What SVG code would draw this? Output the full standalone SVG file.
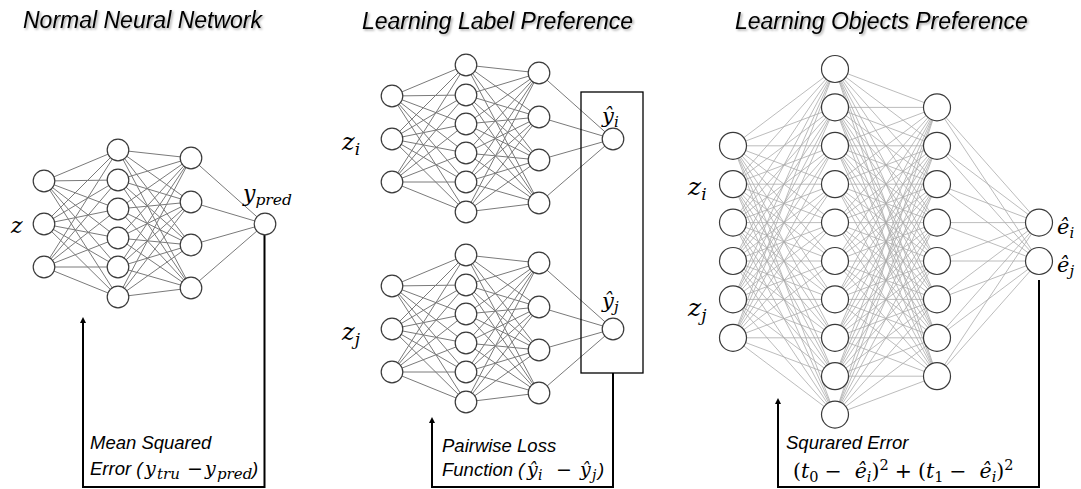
<svg xmlns="http://www.w3.org/2000/svg" width="1081" height="489" viewBox="0 0 1081 489">
<style>
.title{font-family:"Liberation Sans",Arial,sans-serif;font-style:italic;font-size:23px;fill:#000}
.lab{font-family:"Liberation Sans",Arial,sans-serif;font-style:italic;font-size:18.5px;fill:#000}
.m{font-family:"DejaVu Serif","Liberation Serif",serif;font-style:italic;fill:#000}
.up{font-style:normal}
.node{fill:#fff;stroke:#3a3a3a;stroke-width:1.2}
.e1{fill:none;stroke:#7a7a7a;stroke-width:1}
.e3{fill:none;stroke:#ababab;stroke-width:0.8;vector-effect:non-scaling-stroke}
.fb{fill:none;stroke:#000;stroke-width:2}
.box{fill:none;stroke:#000;stroke-width:1.3}
</style>
<defs>
<filter id="sh" x="-5%" y="-30%" width="110%" height="160%">
<feDropShadow dx="1.5" dy="1.5" stdDeviation="1" flood-color="#000" flood-opacity="0.35"/>
</filter>
<marker id="ah" viewBox="0 0 10 10" refX="0" refY="5" markerWidth="3" markerHeight="3" orient="auto"><path d="M0,0L10,5L0,10z" fill="#000"/></marker>
<path id="smallEdges" class="e1" d="M0 -43L74 -74M0 -43L74 -44M0 -43L74 -15M0 -43L74 14M0 -43L74 43M0 -43L74 73M0 0L74 -74M0 0L74 -44M0 0L74 -15M0 0L74 14M0 0L74 43M0 0L74 73M0 43L74 -74M0 43L74 -44M0 43L74 -15M0 43L74 14M0 43L74 43M0 43L74 73M74 -74L147 -66M74 -74L147 -22M74 -74L147 21M74 -74L147 64M74 -44L147 -66M74 -44L147 -22M74 -44L147 21M74 -44L147 64M74 -15L147 -66M74 -15L147 -22M74 -15L147 21M74 -15L147 64M74 14L147 -66M74 14L147 -22M74 14L147 21M74 14L147 64M74 43L147 -66M74 43L147 -22M74 43L147 21M74 43L147 64M74 73L147 -66M74 73L147 -22M74 73L147 21M74 73L147 64M147 -66L221 0M147 -22L221 0M147 21L221 0M147 64L221 0"/>
</defs>

<g id="titles" filter="url(#sh)">
<text class="title" x="23" y="28">Normal Neural Network</text>
<text class="title" x="362" y="29">Learning Label Preference</text>
<text class="title" x="735" y="29">Learning Objects Preference</text>
</g>

<g id="connectors">
<use href="#smallEdges" transform="translate(44,224)"/>
<use href="#smallEdges" transform="translate(392,139)"/>
<use href="#smallEdges" transform="translate(392,329)"/>
<g transform="translate(733,69) scale(102,38.4)">
<path class="e3" d="M0 2L1 0M0 2L1 1M0 2L1 2M0 2L1 3M0 2L1 4M0 2L1 5M0 2L1 6M0 2L1 7M0 2L1 8M0 2L1 9M0 3L1 0M0 3L1 1M0 3L1 2M0 3L1 3M0 3L1 4M0 3L1 5M0 3L1 6M0 3L1 7M0 3L1 8M0 3L1 9M0 4L1 0M0 4L1 1M0 4L1 2M0 4L1 3M0 4L1 4M0 4L1 5M0 4L1 6M0 4L1 7M0 4L1 8M0 4L1 9M0 5L1 0M0 5L1 1M0 5L1 2M0 5L1 3M0 5L1 4M0 5L1 5M0 5L1 6M0 5L1 7M0 5L1 8M0 5L1 9M0 6L1 0M0 6L1 1M0 6L1 2M0 6L1 3M0 6L1 4M0 6L1 5M0 6L1 6M0 6L1 7M0 6L1 8M0 6L1 9M0 7L1 0M0 7L1 1M0 7L1 2M0 7L1 3M0 7L1 4M0 7L1 5M0 7L1 6M0 7L1 7M0 7L1 8M0 7L1 9"/>
<path class="e3" d="M1 0L2 1M1 0L2 2M1 0L2 3M1 0L2 4M1 0L2 5M1 0L2 6M1 0L2 7M1 0L2 8M1 1L2 1M1 1L2 2M1 1L2 3M1 1L2 4M1 1L2 5M1 1L2 6M1 1L2 7M1 1L2 8M1 2L2 1M1 2L2 2M1 2L2 3M1 2L2 4M1 2L2 5M1 2L2 6M1 2L2 7M1 2L2 8M1 3L2 1M1 3L2 2M1 3L2 3M1 3L2 4M1 3L2 5M1 3L2 6M1 3L2 7M1 3L2 8M1 4L2 1M1 4L2 2M1 4L2 3M1 4L2 4M1 4L2 5M1 4L2 6M1 4L2 7M1 4L2 8M1 5L2 1M1 5L2 2M1 5L2 3M1 5L2 4M1 5L2 5M1 5L2 6M1 5L2 7M1 5L2 8M1 6L2 1M1 6L2 2M1 6L2 3M1 6L2 4M1 6L2 5M1 6L2 6M1 6L2 7M1 6L2 8M1 7L2 1M1 7L2 2M1 7L2 3M1 7L2 4M1 7L2 5M1 7L2 6M1 7L2 7M1 7L2 8M1 8L2 1M1 8L2 2M1 8L2 3M1 8L2 4M1 8L2 5M1 8L2 6M1 8L2 7M1 8L2 8M1 9L2 1M1 9L2 2M1 9L2 3M1 9L2 4M1 9L2 5M1 9L2 6M1 9L2 7M1 9L2 8"/>
<path class="e3" d="M2 1L3 4M2 1L3 5M2 2L3 4M2 2L3 5M2 3L3 4M2 3L3 5M2 4L3 4M2 4L3 5M2 5L3 4M2 5L3 5M2 6L3 4M2 6L3 5M2 7L3 4M2 7L3 5M2 8L3 4M2 8L3 5"/>
</g>
<path class="fb" marker-end="url(#ah)" d="M264.5 235V487H83V323"/>
<path class="fb" marker-end="url(#ah)" d="M613 373V487H432V423"/>
<path class="fb" marker-end="url(#ah)" d="M1039 280V487H778V404"/>
</g>

<g id="loss-box"><rect class="box" x="581" y="92" width="62" height="281"/></g>

<g id="net1">
<g id="n1-in0"><circle class="node" cx="44" cy="181" r="10.8"/></g>
<g id="n1-in1"><circle class="node" cx="44" cy="224" r="10.8"/></g>
<g id="n1-in2"><circle class="node" cx="44" cy="267" r="10.8"/></g>
<g id="n1-h1a"><circle class="node" cx="118" cy="150" r="10.8"/></g>
<g id="n1-h1b"><circle class="node" cx="118" cy="180" r="10.8"/></g>
<g id="n1-h1c"><circle class="node" cx="118" cy="209" r="10.8"/></g>
<g id="n1-h1d"><circle class="node" cx="118" cy="238" r="10.8"/></g>
<g id="n1-h1e"><circle class="node" cx="118" cy="267" r="10.8"/></g>
<g id="n1-h1f"><circle class="node" cx="118" cy="297" r="10.8"/></g>
<g id="n1-h2a"><circle class="node" cx="191" cy="158" r="10.8"/></g>
<g id="n1-h2b"><circle class="node" cx="191" cy="202" r="10.8"/></g>
<g id="n1-h2c"><circle class="node" cx="191" cy="245" r="10.8"/></g>
<g id="n1-h2d"><circle class="node" cx="191" cy="288" r="10.8"/></g>
<g id="n1-out"><circle class="node" cx="265" cy="224" r="10.8"/></g>
</g>

<g id="net2a">
<g id="n2a-in0"><circle class="node" cx="392" cy="96" r="10.8"/></g>
<g id="n2a-in1"><circle class="node" cx="392" cy="139" r="10.8"/></g>
<g id="n2a-in2"><circle class="node" cx="392" cy="182" r="10.8"/></g>
<g id="n2a-h1a"><circle class="node" cx="466" cy="65" r="10.8"/></g>
<g id="n2a-h1b"><circle class="node" cx="466" cy="95" r="10.8"/></g>
<g id="n2a-h1c"><circle class="node" cx="466" cy="124" r="10.8"/></g>
<g id="n2a-h1d"><circle class="node" cx="466" cy="153" r="10.8"/></g>
<g id="n2a-h1e"><circle class="node" cx="466" cy="182" r="10.8"/></g>
<g id="n2a-h1f"><circle class="node" cx="466" cy="212" r="10.8"/></g>
<g id="n2a-h2a"><circle class="node" cx="539" cy="73" r="10.8"/></g>
<g id="n2a-h2b"><circle class="node" cx="539" cy="117" r="10.8"/></g>
<g id="n2a-h2c"><circle class="node" cx="539" cy="160" r="10.8"/></g>
<g id="n2a-h2d"><circle class="node" cx="539" cy="203" r="10.8"/></g>
<g id="n2a-out"><circle class="node" cx="613" cy="139" r="10.8"/></g>
</g>

<g id="net2b">
<g id="n2b-in0"><circle class="node" cx="392" cy="286" r="10.8"/></g>
<g id="n2b-in1"><circle class="node" cx="392" cy="329" r="10.8"/></g>
<g id="n2b-in2"><circle class="node" cx="392" cy="372" r="10.8"/></g>
<g id="n2b-h1a"><circle class="node" cx="466" cy="255" r="10.8"/></g>
<g id="n2b-h1b"><circle class="node" cx="466" cy="285" r="10.8"/></g>
<g id="n2b-h1c"><circle class="node" cx="466" cy="314" r="10.8"/></g>
<g id="n2b-h1d"><circle class="node" cx="466" cy="343" r="10.8"/></g>
<g id="n2b-h1e"><circle class="node" cx="466" cy="372" r="10.8"/></g>
<g id="n2b-h1f"><circle class="node" cx="466" cy="402" r="10.8"/></g>
<g id="n2b-h2a"><circle class="node" cx="539" cy="263" r="10.8"/></g>
<g id="n2b-h2b"><circle class="node" cx="539" cy="307" r="10.8"/></g>
<g id="n2b-h2c"><circle class="node" cx="539" cy="350" r="10.8"/></g>
<g id="n2b-h2d"><circle class="node" cx="539" cy="393" r="10.8"/></g>
<g id="n2b-out"><circle class="node" cx="613" cy="329" r="10.8"/></g>
</g>

<g id="net3">
<g id="n3-in0"><circle class="node" cx="733" cy="145.8" r="13.5"/></g>
<g id="n3-in1"><circle class="node" cx="733" cy="184.2" r="13.5"/></g>
<g id="n3-in2"><circle class="node" cx="733" cy="222.6" r="13.5"/></g>
<g id="n3-in3"><circle class="node" cx="733" cy="261" r="13.5"/></g>
<g id="n3-in4"><circle class="node" cx="733" cy="299.4" r="13.5"/></g>
<g id="n3-in5"><circle class="node" cx="733" cy="337.8" r="13.5"/></g>
<g id="n3-h1a"><circle class="node" cx="835" cy="69" r="13.5"/></g>
<g id="n3-h1b"><circle class="node" cx="835" cy="107.4" r="13.5"/></g>
<g id="n3-h1c"><circle class="node" cx="835" cy="145.8" r="13.5"/></g>
<g id="n3-h1d"><circle class="node" cx="835" cy="184.2" r="13.5"/></g>
<g id="n3-h1e"><circle class="node" cx="835" cy="222.6" r="13.5"/></g>
<g id="n3-h1f"><circle class="node" cx="835" cy="261" r="13.5"/></g>
<g id="n3-h1g"><circle class="node" cx="835" cy="299.4" r="13.5"/></g>
<g id="n3-h1h"><circle class="node" cx="835" cy="337.8" r="13.5"/></g>
<g id="n3-h1i"><circle class="node" cx="835" cy="376.2" r="13.5"/></g>
<g id="n3-h1j"><circle class="node" cx="835" cy="414.6" r="13.5"/></g>
<g id="n3-h2a"><circle class="node" cx="937" cy="107.4" r="13.5"/></g>
<g id="n3-h2b"><circle class="node" cx="937" cy="145.8" r="13.5"/></g>
<g id="n3-h2c"><circle class="node" cx="937" cy="184.2" r="13.5"/></g>
<g id="n3-h2d"><circle class="node" cx="937" cy="222.6" r="13.5"/></g>
<g id="n3-h2e"><circle class="node" cx="937" cy="261" r="13.5"/></g>
<g id="n3-h2f"><circle class="node" cx="937" cy="299.4" r="13.5"/></g>
<g id="n3-h2g"><circle class="node" cx="937" cy="337.8" r="13.5"/></g>
<g id="n3-h2h"><circle class="node" cx="937" cy="376.2" r="13.5"/></g>
<g id="n3-out0"><circle class="node" cx="1039" cy="222.6" r="13.5"/></g>
<g id="n3-out1"><circle class="node" cx="1039" cy="261" r="13.5"/></g>
</g>

<g id="labels">
<text class="m" x="11" y="233" font-size="22">z</text>
<text class="m" x="243" y="201" font-size="22">y<tspan font-size="15.5" dy="4">pred</tspan></text>
<text class="m" x="342" y="150" font-size="24">z<tspan font-size="17" dy="5">i</tspan></text>
<text class="m" x="342" y="340" font-size="24">z<tspan font-size="17" dy="5">j</tspan></text>
<text class="m" x="602" y="123" font-size="21">ŷ<tspan font-size="15" dy="4">i</tspan></text>
<text class="m" x="602" y="308" font-size="21">ŷ<tspan font-size="15" dy="4">j</tspan></text>
<text class="m" x="688" y="195" font-size="25">z<tspan font-size="17" dy="5">i</tspan></text>
<text class="m" x="688" y="316" font-size="25">z<tspan font-size="17" dy="5">j</tspan></text>
<text class="m" x="1057" y="234" font-size="21">ê<tspan font-size="15" dy="4">i</tspan></text>
<text class="m" x="1057" y="272" font-size="21">ê<tspan font-size="15" dy="4">j</tspan></text>

<text class="lab" x="90" y="449">Mean Squared</text>
<text class="lab" x="90" y="475">Error (<tspan class="m" font-size="19" x="145">y</tspan><tspan class="m" font-size="15" x="157" dy="4">tru</tspan><tspan class="m up" font-size="19" x="187" dy="-4">−</tspan><tspan class="m" font-size="19" x="205">y</tspan><tspan class="m" font-size="15" x="217" dy="4">pred</tspan><tspan x="252" dy="-4">)</tspan></text>

<text class="lab" x="442" y="452">Pairwise Loss</text>
<text class="lab" x="442" y="476">Function (<tspan class="m" font-size="19" x="527">ŷ</tspan><tspan class="m" font-size="14" x="538" dy="4">i</tspan><tspan class="m up" font-size="19" x="556" dy="-4">−</tspan><tspan class="m" font-size="19" x="580">ŷ</tspan><tspan class="m" font-size="14" x="592" dy="4">j</tspan><tspan x="598" dy="-4">)</tspan></text>

<text class="lab" x="786" y="449">Squrared Error</text>
<text class="m" x="793" y="478" font-size="20.5"><tspan class="up">(</tspan>t<tspan class="up" font-size="14.5" dy="4">0</tspan><tspan class="up" dy="-4" dx="6">−</tspan><tspan dx="13">ê</tspan><tspan font-size="14.5" dy="4">i</tspan><tspan class="up" dy="-4">)</tspan><tspan class="up" font-size="14.5" dy="-8">2</tspan><tspan class="up" dy="8" dx="6">+</tspan><tspan class="up" dx="6">(</tspan>t<tspan class="up" font-size="14.5" dy="4">1</tspan><tspan class="up" dy="-4" dx="6">−</tspan><tspan dx="13">ê</tspan><tspan font-size="14.5" dy="4">i</tspan><tspan class="up" dy="-4">)</tspan><tspan class="up" font-size="14.5" dy="-8">2</tspan></text>
</g>
</svg>
